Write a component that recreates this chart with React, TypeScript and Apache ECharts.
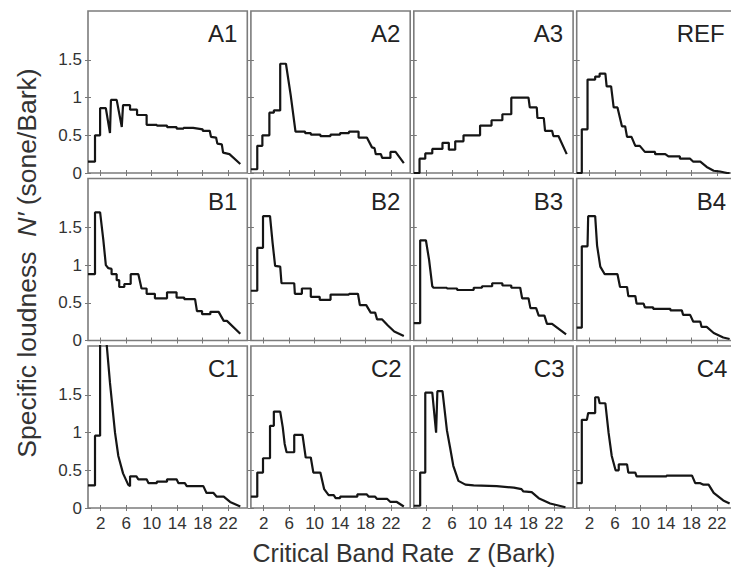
import React, { useEffect, useRef } from "react";
import * as echarts from "echarts";

// ---- Data (critical band rate z in Bark, specific loudness N' in sone/Bark) ----
const PANEL_NAMES = ["A1", "A2", "A3", "REF", "B1", "B2", "B3", "B4", "C1", "C2", "C3", "C4"];
const X_TICKS = [2, 6, 10, 14, 18, 22];
const Y_TICKS = [0, 0.5, 1, 1.5];

const A1 = [[0,0.15],[1.1,0.15],[1.1,0.5],[1.9,0.5],[1.9,0.86],[2.8,0.86],[3.45,0.53],[3.6,0.97],[4.5,0.97],[5.3,0.61],[5.5,0.9],[6.6,0.9],[6.6,0.84],[7.7,0.84],[7.7,0.77],[9.2,0.77],[9.2,0.64],[10.8,0.64],[10.8,0.63],[12.4,0.63],[12.4,0.61],[13.9,0.61],[13.9,0.59],[15,0.59],[15,0.6],[16.5,0.6],[18,0.58],[18,0.56],[19.1,0.56],[19.3,0.48],[20.1,0.47],[20.3,0.39],[21,0.38],[21.2,0.27],[22.2,0.25],[23.9,0.12]];
const A2 = [[0,0.05],[1,0.05],[1,0.36],[1.8,0.36],[1.8,0.5],[2.9,0.5],[2.9,0.8],[3.6,0.8],[3.6,0.83],[4.6,0.83],[4.6,1.45],[5.5,1.45],[6.25,1.03],[7,0.55],[8.5,0.55],[8.5,0.53],[9.4,0.53],[9.4,0.51],[10.9,0.51],[10.9,0.49],[12.5,0.49],[12.5,0.51],[14,0.51],[14,0.53],[15.4,0.53],[15.4,0.55],[16.9,0.55],[16.9,0.47],[18.2,0.47],[19,0.34],[19.4,0.33],[19.6,0.25],[20.4,0.25],[20.6,0.2],[21.9,0.2],[21.9,0.28],[22.7,0.28],[24,0.13]];
const A3 = [[0,0],[0.9,0],[0.9,0.19],[1.8,0.19],[1.8,0.26],[2.9,0.26],[2.9,0.32],[4.5,0.32],[4.5,0.4],[5.5,0.4],[5.5,0.31],[6.5,0.31],[6.5,0.42],[7.8,0.42],[7.8,0.5],[10.4,0.5],[10.4,0.63],[12.2,0.63],[12.2,0.7],[13.9,0.7],[13.9,0.78],[15.3,0.78],[15.3,1.0],[18,1.0],[18.2,0.87],[19.3,0.87],[19.4,0.73],[20.4,0.73],[20.6,0.56],[21.7,0.56],[21.9,0.49],[22.7,0.49],[24,0.25]];
const REF = [[0,0],[0.8,0],[0.8,0.58],[1.7,0.58],[1.7,1.24],[2.9,1.24],[2.9,1.28],[3.6,1.28],[3.6,1.32],[4.5,1.32],[4.7,1.15],[5.4,1.15],[5.8,0.87],[6.4,0.87],[7.1,0.62],[7.6,0.62],[7.9,0.48],[8.6,0.48],[9.2,0.36],[9.9,0.36],[10.7,0.28],[12.3,0.28],[12.3,0.25],[13.9,0.25],[14.4,0.22],[16.2,0.22],[16.2,0.19],[17.8,0.19],[18.3,0.15],[19.4,0.15],[20.4,0.08],[21.5,0.03],[22.5,0.02],[23.6,0],[24,0]];
const B1 = [[0,0.88],[1.1,0.88],[1.1,1.7],[1.9,1.7],[2.4,1.34],[2.8,1.0],[3.2,0.96],[3.7,0.95],[3.7,0.88],[4.5,0.88],[4.5,0.8],[4.9,0.8],[4.9,0.71],[5.7,0.71],[5.7,0.75],[6.7,0.75],[6.7,0.88],[7.9,0.88],[8.4,0.69],[9.2,0.69],[9.2,0.62],[10.5,0.62],[10.5,0.56],[12.4,0.56],[12.4,0.64],[13.9,0.64],[13.9,0.57],[15.1,0.57],[15.1,0.55],[16.8,0.55],[17.1,0.39],[17.9,0.39],[17.9,0.35],[19.2,0.35],[19.2,0.38],[20.5,0.38],[21.3,0.26],[21.8,0.26],[23.9,0.09]];
const B2 = [[0,0.66],[1,0.66],[1,1.23],[1.9,1.23],[1.9,1.65],[3,1.65],[3.4,1.3],[3.8,0.99],[4.6,0.98],[4.8,0.76],[6.8,0.76],[6.9,0.62],[8,0.62],[8,0.69],[9.4,0.69],[9.4,0.58],[10.8,0.58],[10.8,0.54],[12.5,0.54],[12.5,0.61],[15.4,0.61],[15.4,0.62],[16.8,0.62],[17.1,0.47],[18.1,0.47],[18.8,0.37],[19.5,0.37],[19.8,0.28],[20.6,0.28],[21.5,0.2],[22.5,0.12],[24,0.06]];
const B3 = [[0,0.23],[1,0.23],[1,1.33],[1.9,1.33],[2.4,1.07],[2.9,0.72],[3.1,0.7],[5.2,0.7],[5.2,0.69],[6.8,0.69],[6.8,0.67],[9.4,0.67],[9.4,0.7],[10.7,0.7],[10.7,0.72],[12.3,0.72],[12.3,0.76],[13.9,0.76],[13.9,0.73],[15.3,0.73],[15.3,0.7],[16.7,0.7],[17,0.56],[18,0.56],[18.3,0.43],[19.2,0.43],[19.6,0.33],[20.5,0.33],[20.9,0.22],[21.7,0.22],[23.9,0.08]];
const B4 = [[0,0.17],[0.8,0.17],[0.8,1.25],[1.7,1.25],[1.8,1.65],[2.9,1.65],[3.2,1.26],[3.7,0.98],[4.4,0.88],[6.4,0.88],[6.8,0.71],[7.9,0.71],[8.1,0.59],[9.2,0.59],[9.4,0.49],[10.5,0.49],[10.7,0.44],[12,0.44],[12,0.42],[14.7,0.42],[14.7,0.4],[16.5,0.4],[16.7,0.34],[17.8,0.34],[18.3,0.25],[19.4,0.25],[19.6,0.18],[20.4,0.18],[21.5,0.1],[23,0.04],[24,0.02]];
const C1 = [[0,0.3],[1.1,0.3],[1.1,0.96],[1.9,0.96],[1.9,2.3],[2.8,2.3],[3.45,1.66],[4.24,1.0],[4.76,0.69],[5.5,0.46],[6.3,0.31],[6.6,0.29],[6.6,0.42],[7.6,0.42],[7.9,0.38],[9.2,0.38],[9.5,0.33],[10.8,0.33],[10.8,0.35],[12.4,0.35],[12.4,0.38],[13.9,0.38],[14.2,0.33],[15.2,0.33],[15.5,0.29],[18.1,0.29],[18.6,0.2],[19.7,0.2],[20.2,0.15],[21.3,0.15],[22.3,0.08],[23.9,0.02]];
const C2 = [[0,0.15],[1,0.15],[1,0.47],[1.9,0.47],[1.9,0.66],[3,0.66],[3,1.09],[3.6,1.09],[3.6,1.28],[4.6,1.28],[5,1.07],[5.3,0.85],[5.6,0.74],[6.8,0.74],[6.8,0.97],[8.1,0.97],[8.6,0.67],[9.4,0.67],[9.8,0.47],[10.9,0.47],[11.5,0.25],[12.2,0.17],[13,0.17],[13.3,0.13],[14,0.13],[14,0.15],[16.7,0.15],[16.7,0.18],[18.2,0.18],[18.5,0.15],[19.5,0.15],[19.8,0.12],[21.4,0.12],[21.9,0.08],[22.9,0.08],[24,0.02]];
const C3 = [[0,0.03],[1,0.03],[1,0.47],[1.8,0.47],[1.8,1.53],[2.9,1.53],[3.5,1.0],[3.7,1.55],[4.5,1.55],[5.2,1.03],[5.7,0.8],[6.2,0.56],[7,0.36],[8.1,0.31],[9.4,0.3],[13,0.29],[15.7,0.27],[16.9,0.25],[17.2,0.22],[18.5,0.21],[19.6,0.13],[21.4,0.06],[23.8,0.01]];
const C4 = [[0,0.33],[0.8,0.33],[0.8,1.17],[1.6,1.17],[1.8,1.26],[2.9,1.26],[2.9,1.47],[3.4,1.47],[3.6,1.39],[4.5,1.39],[5,1.0],[5.5,0.69],[6.1,0.5],[6.6,0.5],[6.6,0.58],[7.9,0.58],[8.1,0.47],[9.2,0.47],[9.4,0.42],[14.1,0.42],[14.1,0.43],[18.1,0.43],[18.6,0.33],[19.4,0.33],[19.9,0.31],[20.7,0.31],[21.5,0.2],[23,0.1],[24,0.06]];

const PANEL_DATA = [A1, A2, A3, REF, B1, B2, B3, B4, C1, C2, C3, C4];

// ---- Layout / style ----
const FONT = "'Liberation Sans', Arial, Helvetica, sans-serif";
const LEFT0 = 88;
const COL_STEP = 162.9;
const PW = 159.3;
const TOP0 = 11;
const ROW_STEP = 167.5;
const PH = 162;
const X_MAX = 25;
const Y_MAX = 2.15;
const FRAME = "#7c7c7c";
const TEXT = "#333333";

export default function App() {
  const ref = useRef<HTMLDivElement>(null);

  useEffect(() => {
    if (!ref.current) return;
    const chart = echarts.init(ref.current, undefined, { renderer: "svg" });

    const grid: any[] = [];
    const xAxis: any[] = [];
    const yAxis: any[] = [];
    const series: any[] = [];
    const graphic: any[] = [];

    PANEL_DATA.forEach((data, i) => {
      const row = Math.floor(i / 4);
      const col = i % 4;
      const left = LEFT0 + col * COL_STEP;
      const top = TOP0 + row * ROW_STEP;
      grid.push({
        left, top, width: PW, height: PH,
        show: true, borderColor: FRAME, borderWidth: 1.6,
        backgroundColor: "transparent", containLabel: false, outerBoundsMode: "none",
      });
      const tickStyle = { show: true, inside: true, length: 3, lineStyle: { color: "#777", width: 1 } };
      xAxis.push({
        gridIndex: i, type: "value", min: 0, max: X_MAX, position: "bottom",
        axisLine: { show: false }, splitLine: { show: false },
        axisTick: { ...tickStyle, customValues: X_TICKS },
        axisLabel: { show: row === 2, customValues: X_TICKS, fontSize: 17, lineHeight: 17, color: TEXT, fontFamily: FONT, margin: 7 },
      });
      xAxis.push({
        gridIndex: i, type: "value", min: 0, max: X_MAX, position: "top",
        axisLine: { show: false }, splitLine: { show: false },
        axisTick: { ...tickStyle, customValues: X_TICKS },
        axisLabel: { show: false },
      });
      yAxis.push({
        gridIndex: i, type: "value", min: 0, max: Y_MAX, position: "left",
        axisLine: { show: false }, splitLine: { show: false },
        axisTick: { ...tickStyle, customValues: Y_TICKS },
        axisLabel: { show: col === 0, customValues: Y_TICKS, fontSize: 17, color: TEXT, fontFamily: FONT, margin: 6 },
      });
      yAxis.push({
        gridIndex: i, type: "value", min: 0, max: Y_MAX, position: "right",
        axisLine: { show: false }, splitLine: { show: false },
        axisTick: { ...tickStyle, customValues: Y_TICKS },
        axisLabel: { show: false },
      });
      series.push({
        type: "line", xAxisIndex: 2 * i, yAxisIndex: 2 * i, data,
        showSymbol: false, symbol: "none", clip: true, silent: true,
        lineStyle: { color: "#151515", width: 2.2 },
      });
      const name = PANEL_NAMES[i];
      graphic.push({
        type: "text",
        x: left + (name === "REF" ? 100 : 120),
        y: top + 22.5,
        style: { text: name, fontSize: 24, fontFamily: FONT, fill: "#222", textAlign: "left", textVerticalAlign: "middle" },
      });
    });

    graphic.push({
      type: "text",
      x: 27, y: 263, rotation: Math.PI / 2,
      style: {
        text: "{a|Specific loudness  }{b|N′}{a| (sone/Bark)}",
        textAlign: "center", textVerticalAlign: "middle",
        rich: {
          a: { fontSize: 26.5, fontFamily: FONT, fill: TEXT },
          b: { fontSize: 26.5, fontFamily: FONT, fill: TEXT, fontStyle: "italic" },
        },
      },
    });
    graphic.push({
      type: "text",
      x: 404, y: 553,
      style: {
        text: "{a|Critical Band Rate  }{b|z}{a| (Bark)}",
        textAlign: "center", textVerticalAlign: "middle",
        rich: {
          a: { fontSize: 25, lineHeight: 26, fontFamily: FONT, fill: TEXT },
          b: { fontSize: 25, lineHeight: 26, fontFamily: FONT, fill: TEXT, fontStyle: "italic" },
        },
      },
    });

    chart.setOption({
      animation: false,
      backgroundColor: "#ffffff",
      grid, xAxis, yAxis, series, graphic,
    });
    return () => chart.dispose();
  }, []);

  return (
    <div
      ref={ref}
      style={{ position: "fixed", left: 0, top: 0, width: 731, height: 568, background: "#fff" }}
    />
  );
}
